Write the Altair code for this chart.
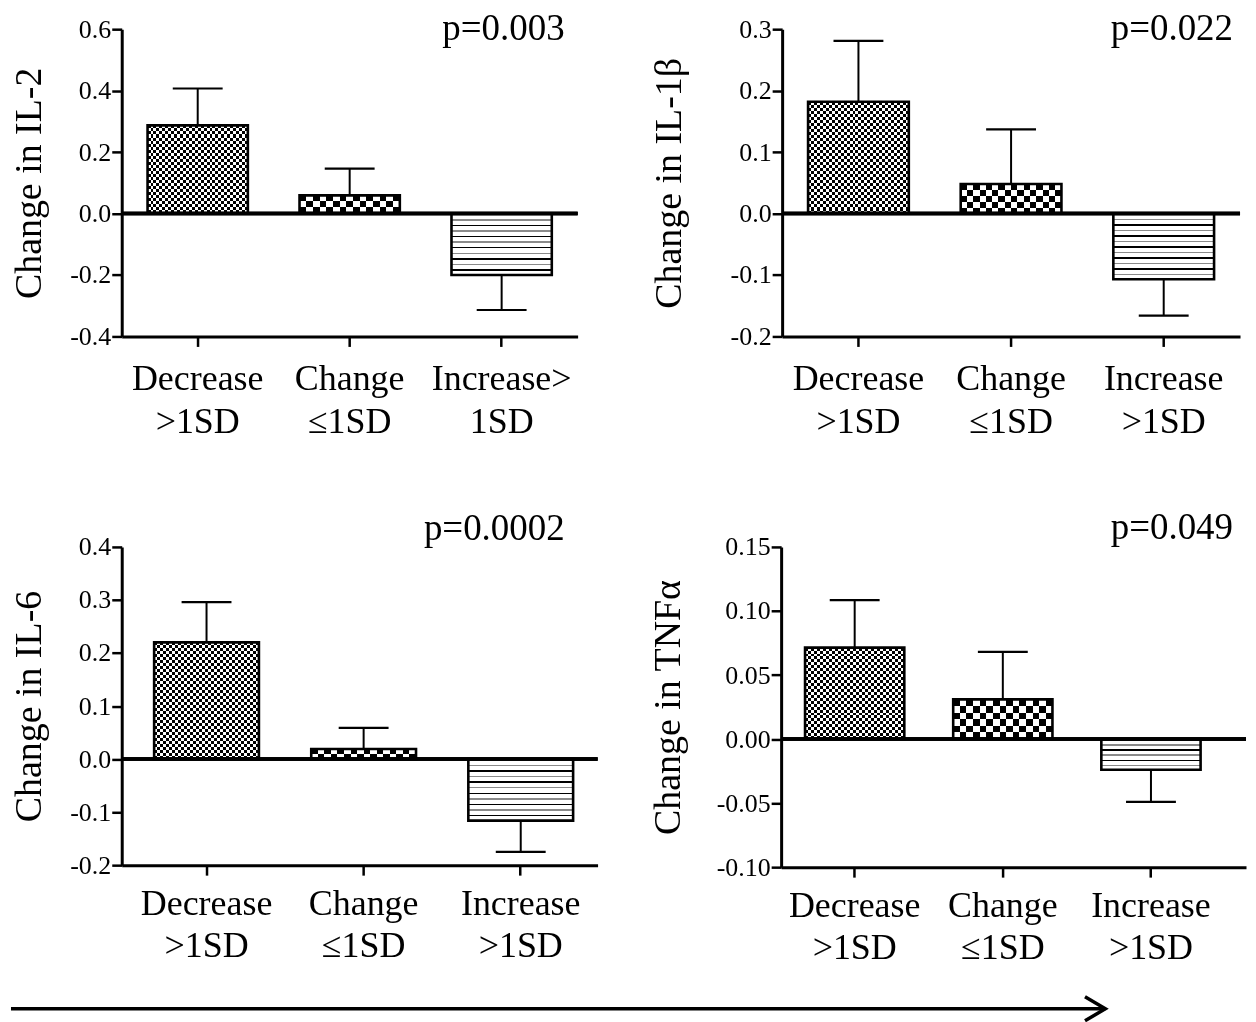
import altair as alt
import pandas as pd
import numpy as np

FONT = "Liberation Serif"

# ---------------- data ----------------
cats_il2 = ["Decrease >1SD", "Change ≤1SD", "Increase> 1SD"]
cats_std = ["Decrease >1SD", "Change ≤1SD", "Increase >1SD"]

il2_values = [0.287, 0.059, -0.200]
il2_errors = [0.120, 0.087, 0.114]
il1b_values = [0.182, 0.048, -0.107]
il1b_errors = [0.099, 0.089, 0.059]
il6_values = [0.220, 0.019, -0.116]
il6_errors = [0.076, 0.040, 0.059]
tnf_values = [0.0714, 0.031, -0.024]
tnf_errors = [0.037, 0.037, 0.025]

il2_ticks = [-0.4, -0.2, 0.0, 0.2, 0.4, 0.6]
il1b_ticks = [-0.2, -0.1, 0.0, 0.1, 0.2, 0.3]
il6_ticks = [-0.2, -0.1, 0.0, 0.1, 0.2, 0.3, 0.4]
tnf_ticks = [-0.10, -0.05, 0.00, 0.05, 0.10, 0.15]

y_titles = ["Change in IL-2", "Change in IL-1β", "Change in IL-6", "Change in TNFα"]
p_labels = ["p=0.003", "p=0.022", "p=0.0002", "p=0.049"]

TITLE_FS = 38
LABEL_FS = 26
XLABEL_FS = 36
P_FS = 37


# ---------------- helpers ----------------
def stripe_gradient(n, c_even, c_odd, direction):
    stops = []
    for k in range(n):
        c = c_even if k % 2 == 0 else c_odd
        stops.append({"offset": k / n, "color": c})
        stops.append({"offset": (k + 1) / n, "color": c})
    g = {"gradient": "linear", "stops": stops}
    if direction == "y":
        g.update(x1=0, y1=0, x2=0, y2=1)
    else:
        g.update(x1=0, y1=0, x2=1, y2=0)
    return g


def line_gradient(h_px, period, thick):
    n = max(1, int(round(h_px / period)))
    t = thick / h_px
    stops = []
    for k in range(n):
        c = "#000000" if k % 2 == 0 else "#8a8a8a"
        a = k / n
        b = (k + 1) / n
        stops += [
            {"offset": a, "color": c},
            {"offset": a + t, "color": c},
            {"offset": a + t, "color": "white"},
            {"offset": b, "color": "white"},
        ]
    return {"gradient": "linear", "x1": 0, "y1": 0, "x2": 0, "y2": 1, "stops": stops}


def panel(cats, values, errors, ticks, fmt, title, ptext, width, height,
          pi, po, align, extent, title_pad, xlab_pad, p_x, p_y):
    df = pd.DataFrame({"cat": cats, "value": values, "err": errors})
    df["end"] = df["value"] + np.sign(df["value"]) * df["err"]
    ymin, ymax = ticks[0], ticks[-1]

    xscale = alt.Scale(domain=cats, paddingInner=pi, paddingOuter=po, align=align)
    yscale = alt.Scale(domain=[ymin, ymax], nice=False, zero=False)
    xaxis = alt.Axis(
        title=None, labelAngle=0, labelExpr="split(datum.label, ' ')",
        labelFont=FONT, labelFontSize=XLABEL_FS, labelLineHeight=43, labelColor="black",
        labelPadding=xlab_pad, tickSize=10, tickWidth=2.5, tickColor="black",
        domainWidth=3, domainColor="black", grid=False,
    )
    yaxis = alt.Axis(
        values=ticks, labelExpr=f"replace(format(datum.value, '{fmt}'), '\u2212', '-')",
        title=title, titleFont=FONT, titleFontSize=TITLE_FS, titleFontWeight="normal",
        titleColor="black", titlePadding=title_pad,
        labelFont=FONT, labelFontSize=LABEL_FS, labelColor="black", labelPadding=1,
        tickSize=10, tickWidth=2.5, tickColor="black",
        domainWidth=3, domainColor="black", grid=False,
        minExtent=extent, maxExtent=extent,
    )

    def X():
        return alt.X("cat:N", scale=xscale, sort=cats, axis=xaxis)

    def Y(field):
        return alt.Y(f"{field}:Q", scale=yscale, axis=yaxis)

    base = alt.Chart(df)
    step = width / (3 - pi + 2 * po)
    bar_w = step * (1 - pi)
    layers = []

    def bar_px(i):
        return abs(values[i]) / (ymax - ymin) * height

    # checker bars (Decrease fine, Change coarse)
    for i, sq in [(0, 3.0), (1, 6.5)]:
        nh = max(1, int(round(bar_px(i) / sq)))
        nv = max(1, int(round(bar_w / sq)))
        sub = base.transform_filter(alt.datum.cat == cats[i])
        layers.append(sub.mark_bar(fill=stripe_gradient(nh, "white", "black", "y"),
                                   strokeWidth=0).encode(x=X(), y=Y("value")))
        layers.append(sub.mark_bar(fill=stripe_gradient(nv, "white", "black", "x"),
                                   strokeWidth=0, blend="difference").encode(x=X(), y=Y("value")))
    # horizontal-lines bar (Increase)
    sub = base.transform_filter(alt.datum.cat == cats[2])
    layers.append(sub.mark_bar(fill=line_gradient(bar_px(2), 5.5, 1.4),
                               strokeWidth=0).encode(x=X(), y=Y("value")))
    # outlines
    layers.append(base.mark_bar(fill="transparent", stroke="black", strokeWidth=2.6)
                  .encode(x=X(), y=Y("value")))
    # error bars
    layers.append(base.mark_rule(color="black", strokeWidth=2)
                  .encode(x=X(), y=Y("value"), y2="end:Q"))
    layers.append(base.mark_tick(color="black", size=50, thickness=2.2, opacity=1)
                  .encode(x=X(), y=Y("end")))
    # zero line
    layers.append(alt.Chart(df).mark_rule(color="black", strokeWidth=3.5)
                  .encode(y=alt.Y(datum=0, scale=yscale, axis=yaxis)))
    # p-value
    pdf = pd.DataFrame({"p": [ptext]})
    layers.append(alt.Chart(pdf).mark_text(font=FONT, fontSize=P_FS, color="black",
                                           align="right", baseline="alphabetic")
                  .encode(text="p:N", x=alt.value(p_x), y=alt.value(p_y)))

    return alt.layer(*layers).properties(width=width, height=height)


p1 = panel(cats_il2, il2_values, il2_errors, il2_ticks, ".1f", y_titles[0], p_labels[0],
           457, 308, 0.34, 0.17, 0.5, 52, 21, 15, 444, 11)
p2 = panel(cats_std, il1b_values, il1b_errors, il1b_ticks, ".1f", y_titles[1], p_labels[1],
           459, 308, 0.34, 0.17, 0.5, 65, 29, 15, 452, 11)
p3 = panel(cats_std, il6_values, il6_errors, il6_ticks, ".1f", y_titles[2], p_labels[2],
           477, 319, 0.333, 0.181, 0.57, 52, 21, 11, 444, -7)
p4 = panel(cats_std, tnf_values, tnf_errors, tnf_ticks, ".2f", y_titles[3], p_labels[3],
           466, 321, 0.33, 0.234, 0.345, 65, 29, 11, 453, -8)

row1 = alt.hconcat(p1, p2, spacing=71)
row2 = alt.hconcat(p3, p4, spacing=50)

LEFT_EXT = 52 + 21 + TITLE_FS
ARROW_END = 986
arrow_df = pd.DataFrame({"a": [0]})
arrow_line = alt.Chart(arrow_df).mark_rule(color="black", strokeWidth=3.5).encode(
    x=alt.value(-LEFT_EXT), x2=alt.value(ARROW_END), y=alt.value(12))
arrow_head = alt.Chart(arrow_df).mark_point(
    shape="M -1.7 -1 L 0 0 L -1.7 1", size=576, filled=False, strokeWidth=3.5,
    color="black", opacity=1).encode(x=alt.value(ARROW_END), y=alt.value(12))
arrow = alt.layer(arrow_line, arrow_head).properties(width=ARROW_END + 2, height=24)

chart = alt.vconcat(alt.vconcat(row1, row2, spacing=70), arrow, spacing=24).properties(
    padding={"left": 1, "top": 1, "right": 0, "bottom": 0}
).configure_view(strokeWidth=0)

chart.save("out.html", embed_options={"renderer": "svg", "actions": False})
